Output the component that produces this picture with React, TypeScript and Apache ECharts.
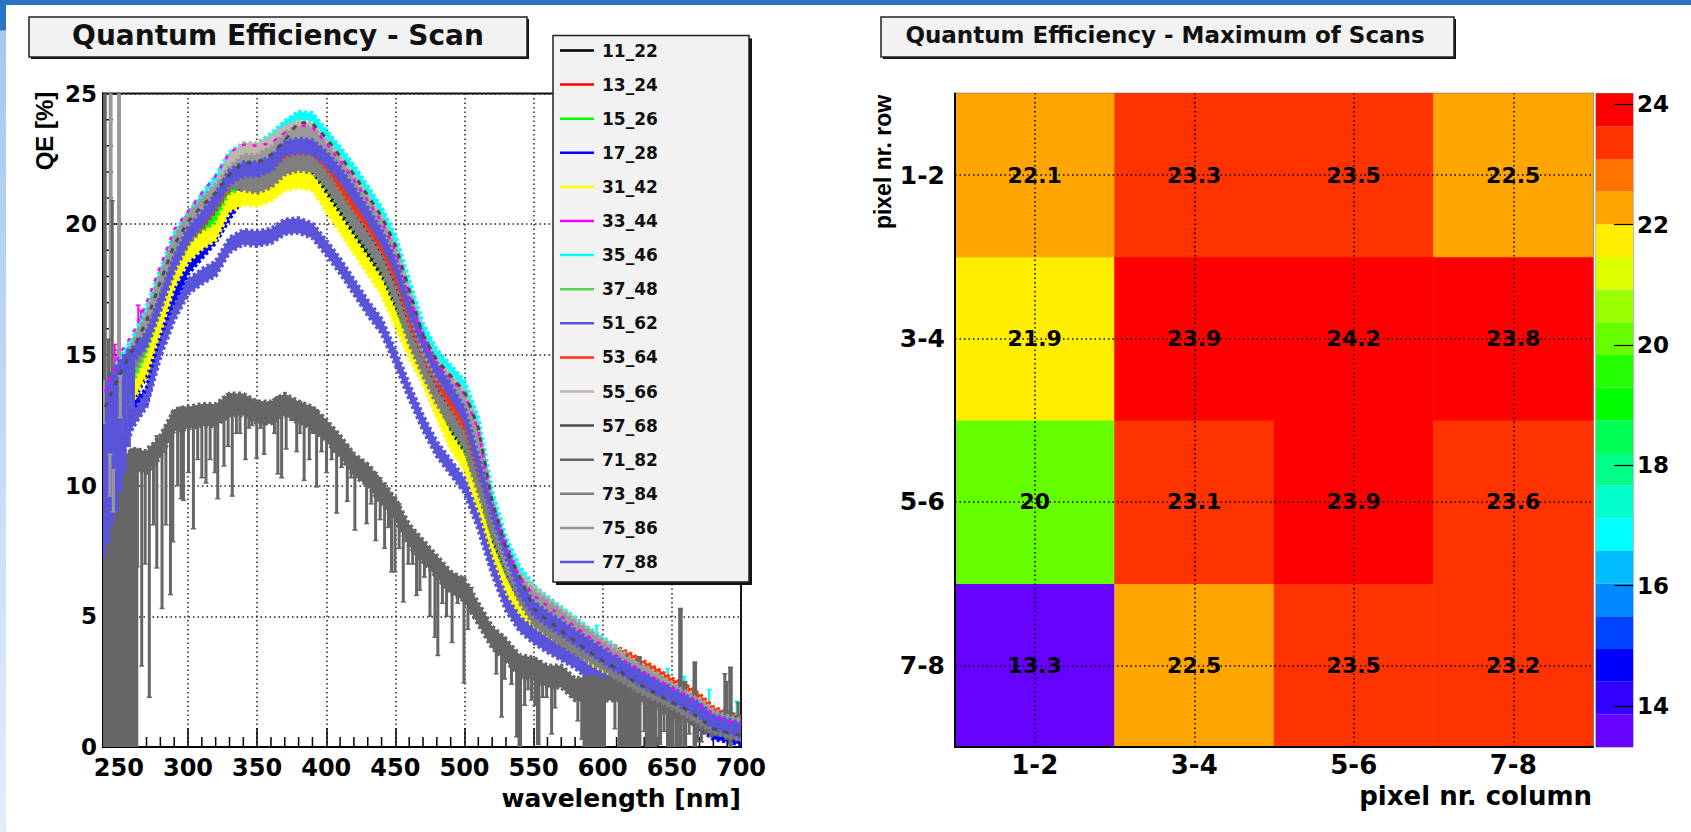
import React, { useEffect, useRef } from "react";
import * as echarts from "echarts";

const wavelengths = [240,250,260,270,280,290,300,310,320,330,340,350,360,370,380,390,400,410,420,430,440,450,460,470,480,490,500,510,520,530,540,550,560,570,580,590,600,610,620,630,640,650,660,670,680,690,700];

const qe11 = [11,12.4,13.4,14.4,16,17.6,18.7,19.4,20.1,20.9,21.3,21.3,21.5,22,22.2,22.1,21.4,20.6,19.8,19,18.2,17,15.6,14.3,13.2,12.15,11.45,9.6,7.8,6.4,5.4,4.9,4.5,4.1,3.75,3.4,3.05,2.8,2.5,2.25,2,1.75,1.45,1.15,0.8,0.65,0.5];
const qe13 = [12.5,13.5,14.3,15.2,16.7,18.2,19.2,19.8,20.5,21.3,21.8,21.8,22,22.4,22.5,22.65,22,21.25,20.55,19.85,19,17.85,16.2,14.95,13.9,13,12.1,10.5,8.6,7.1,5.9,5.2,4.75,4.35,4,3.65,3.3,3,2.7,2.4,2.15,1.9,1.55,1.25,0.9,0.75,0.6];
const qe15 = [12.3,13.2,13.8,15,16.5,18,19,19.5,20.2,21,21.5,21.4,21.6,22.1,22.25,22.2,21.6,20.8,20,19.25,18.4,17.2,15.6,14.4,13.3,12.45,11.6,9.9,8.3,6.9,5.7,4.9,4.5,4.15,3.8,3.5,3.2,2.85,2.55,2.25,2,1.75,1.45,1.15,0.8,0.65,0.5];
const qe17 = [10.5,11.5,12.9,13.4,15.6,17.2,18.4,19,19.6,20.5,21.3,21.3,21.5,22.1,22.5,22.6,21.8,21,20.2,19.4,18.6,17.4,16,15,13.9,12.9,12,10.4,8.5,7,5.7,5.1,4.6,4.2,3.9,3.5,3.1,2.8,2.5,2.2,2,1.75,1.4,1,0.6,0.5,0.4];
const qe31 = [11,12,13.5,14.6,16.2,17.9,18.85,19.35,19.7,20.8,21.05,21,21.2,21.6,21.7,21.6,20.8,20,19.2,18.4,17.6,16.4,15.2,14.2,12.9,11.7,10.9,9.4,7.5,6.2,5.2,4.75,4.3,3.95,3.6,3.3,3,2.75,2.5,2.25,2,1.8,1.55,1.25,0.9,0.75,0.6];
const qe33 = [13.6,15,15.8,17,18.4,19.8,20.5,21.2,21.85,22.75,23.05,23,23.1,23.5,23.8,23.7,23.1,22.4,21.7,20.9,20.1,19,17.3,15.6,14.6,14.1,13.5,12.1,9.3,7.6,6.5,5.8,5.4,5,4.6,4.2,3.9,3.5,3.15,2.85,2.55,2.25,2,1.65,1.2,1,0.9];
const qe35 = [13.3,14.7,15.5,16.7,18.1,19.5,20.3,21,21.7,22.6,22.95,22.95,23.3,23.8,24.15,24.1,23.45,22.8,22.1,21.3,20.5,19.4,17.7,16.05,15.05,14.45,13.85,12.45,9.65,7.85,6.75,6.05,5.6,5.2,4.8,4.4,4.05,3.7,3.3,3,2.7,2.35,2.1,1.75,1.3,1.1,0.95];
const qe37 = [12.6,13.4,14.2,15.4,16.9,18.4,19.4,20.1,20.8,21.7,22,22,22.2,22.8,22.9,22.85,22.4,21.8,21.05,20.25,19.4,18.3,16.7,15.4,14.3,13.5,12.6,10.8,8.9,7.4,6,5.2,4.8,4.45,4.1,3.75,3.4,3.05,2.75,2.45,2.15,1.9,1.6,1.3,0.85,0.7,0.55];
const qe51 = [9,11,12.5,13.3,15.2,16.6,17.6,18,18.3,19.2,19.5,19.45,19.55,19.9,19.95,19.75,19.1,18.4,17.6,16.8,16.1,14.9,13.6,12.4,11.4,10.7,10,8.6,6.9,5.5,4.7,4.25,3.9,3.6,3.3,2.85,2.55,2.35,2.15,2,1.8,1.6,1.4,1.1,0.8,0.7,0.55];
const qe53 = [12.9,14,14.8,15.7,17.2,18.6,19.5,20.1,20.8,21.6,22,22,22.2,22.6,22.7,22.75,22.1,21.35,20.65,19.95,19.1,17.95,16.3,15.05,14,13.1,12.2,10.6,8.7,7.2,6,5.35,4.9,4.5,4.15,3.8,3.75,3.6,3.35,3.05,2.75,2.4,2.15,1.8,1.3,1.1,0.95];
const qe55 = [12.9,14.1,15,16.2,17.6,19,19.9,20.6,21.3,22.4,22.85,22.85,23.1,23.5,23.7,23.6,23,22.35,21.65,20.85,20.05,18.95,17.25,15.55,14.6,14,13.4,12,9.2,7.4,6.4,5.9,5.45,5.05,4.65,4.25,3.9,3.55,3.15,2.85,2.55,2.2,1.95,1.6,1.15,1,0.85];
const qe57 = [13,14.2,15.2,16.3,17.8,19.2,20.1,20.7,21.2,21.9,22.35,22.35,22.65,23.2,23.9,23.85,23.3,22.6,21.9,21.1,20.3,19.2,17.5,15.75,14.8,14.2,13.6,12.2,9.4,7.6,6.5,5.3,4.85,4.45,4.05,3.65,3.3,3,2.6,2.3,2,1.7,1.45,1.1,0.7,0.55,0.45];
const qe71 = [10,10.5,11,10.9,11.5,12.5,12.6,12.7,12.7,13.1,13.1,12.8,12.8,13.1,12.8,12.6,12.1,11.5,10.8,10.4,9.7,9.1,8.1,7.5,6.9,6.3,6,5.1,4.2,3.7,3.1,3,2.7,2.7,2.2,2.3,2.2,2.2,2.3,2.1,1.9,1.5,1.5,1.1,0.9,0.9,0.7];
const qe73 = [13,13.8,14.6,15.6,17,18.5,19.5,20.2,20.9,21.7,21.6,21.5,21.7,22.2,22.35,22.3,21.7,20.9,20.1,19.35,18.5,17.3,15.7,14.5,13.4,12.55,11.7,10,8.4,7,5.8,4.95,4.55,4.2,3.85,3.55,3.25,2.9,2.6,2.3,2.05,1.8,1.5,1.2,0.85,0.7,0.55];
const qe75 = [13,14.2,15.2,16.3,17.8,19.2,20.1,20.7,21.2,21.9,22.35,22.35,22.65,23.2,23.45,23.4,22.8,22.15,21.45,20.65,19.85,18.75,17.05,15.35,14.4,13.8,13.2,11.8,9,7.25,6.2,5.7,5.3,4.9,4.5,4.15,3.75,3.4,3.05,2.75,2.45,2.1,1.8,1.5,1.05,0.9,0.75];
const qe77 = [13.4,14.3,15,15.6,17,18.5,19.6,20.2,20.9,21.8,22.1,22.1,22.3,22.9,23,22.95,22.5,21.9,21.15,20.35,19.5,18.4,16.8,15.5,14.4,13.6,12.7,10.9,9,7.5,6.1,5.3,4.9,4.55,4.2,3.85,3.5,3.15,2.85,2.55,2.25,2,1.7,1.4,0.95,0.8,0.65];

const bars71 = [[239.6,0,25],[242.2,0,10],[245.1,0,10],[248,0,10.5],[250.9,0,10.5],[253.8,0,11],[256.6,0,11],[259.5,0,11.4],[262.4,0,11.3],[247,6.2,10.5],[252.4,7.2,11],[258,2.9,11.3],[242.5,13.5,15.6],[245.2,14,20.9],[263.4,6.9,11.4],[266.5,3.1,11.1],[269,7,10.9],[272,1.9,11.5],[275,8.5,11.6],[277.4,6.85,11.9],[281.2,5.3,11.95],[284,8.5,12.2],[287.3,5.83,12.3],[289,7.85,12.8],[292.5,10,12.9],[295,9.5,13],[296.7,9.44,13],[300.3,10.5,12.9],[303.9,8.35,12.9],[307,11,13],[310,10.3,13],[313,10.1,13.1],[316,11,13],[319.5,10.5,12.9],[321.5,9.5,13.1],[326,10.75,13.4],[329,11.5,13.5],[332,9.6,13.5],[335,12,13.4],[337.6,12,13.4],[341.5,11,13.4],[344,12.2,13.3],[346.3,12.3,13.3],[349.7,11.05,13.2],[352.5,12.2,13.2],[355,11.2,13.1],[359.3,12.4,13.2],[362.5,12,13.3],[365,10.45,13.4],[367.7,10.3,13.4],[371,11.4,13.4],[375,12.5,13.2],[378.6,11.3,13.2],[381,12,13.2],[384,10.2,13],[387.7,11,13],[390,12,13],[393,9.95,12.9],[396.6,11.3,12.7],[400.2,10.5,12.4],[403.9,11,12.2],[407.5,8.95,11.9],[411,10.7,11.7],[415.2,9.4,11.5],[418,10.3,11.3],[420.7,8.3,11.1],[424.4,10.2,11],[429.2,8.55,10.8],[432.5,9.3,10.7],[435.7,7.9,10.5],[439,8.7,10.3],[442.2,7.6,10.1],[445,8.4,9.9],[447.2,6.7,9.7],[449.7,6.7,9.5],[452.7,7.6,9.3],[455.7,5.55,8.8],[459.3,7,8.3],[462.5,7,8.1],[465.3,5.8,8],[467.7,6,7.8],[471,6.5,7.3],[475,5,7.2],[478.6,4.2,7],[480.7,3.5,7],[484,5.5,6.9],[487,5,6.7],[491,4,6.6],[495,5.5,6.4],[499.6,2.45,6.5],[502.5,4.5,6.2],[505,5.2,6.1],[523,2.8,4.4],[526.8,1.15,4.3],[529,2.6,4.2],[534,2.4,3.7],[537.7,0.39,3.55],[540,0,3.3],[543.5,1.6,3.3],[546,2.2,3.3],[548.5,1.8,3.3],[551,1.6,3.3],[553.3,0.1,3.3],[556.5,1.9,3.1],[559.4,1.9,3],[563,0.5,3.05],[565.4,1.5,3],[569,2.4,2.95],[578.6,1.9,2.5],[582,1,2.55],[584.8,0.3,2.5],[587,0,2.55],[589.5,0,2.6],[591.9,0,2.6],[594.4,0,2.6],[596.7,0,2.6],[599,0,2.55],[600.8,0,2.5],[608.8,0.7,2.4],[612.4,0,3.2],[614.8,0,2.8],[617.2,0,3.5],[619.6,0,2.9],[622,0,3],[624.2,0,2.7],[626.4,0,3.45],[630,0.6,2.6],[632,0,2.5],[635,0,2.5],[637.8,0,2.3],[641.3,0.1,2.2],[644.3,0.6,2.1],[647.3,0,2],[650,0,1.9],[653.4,0,1.8],[656.2,0,5.3],[659.4,0,2.5],[662.5,0.5,2],[666.6,0,3.25],[668.8,0.2,1.6],[671.4,0.2,1.5],[674,0.5,1.3],[678,0.4,1.1],[682,0.6,1],[685.5,0.5,1.1],[688.3,0.4,2.8],[689.5,0.3,2.5],[692.4,0,3.05],[697.9,0.6,1.7]];
const bars75 = [[244,11,25],[250.1,11,25],[246.5,3.9,6]];
const bars75Front = [[238.8,12.4,14],[243.5,9.6,11.2],[246,9,10.6],[251,12.6,14.2]];
const bars77 = [[239,7.3,14],[242,7.8,14],[245,8.5,14.3],[248,9,14.6],[251,9.8,14.8],[254,10.5,15],[257,11.5,15.2],[260,12.4,15.2]];
const bars33 = [[247,14.2,15.4],[249,14.3,15.2],[264,15.8,16.9],[266,16,16.7],[268,16.1,16.6]];
const bars35 = [[595.6,3.9,4.65],[647,2,3],[659,2,2.7],[666,1.8,2.55],[677,1.5,2.2],[697,1,1.75]];

const majorX = [250,300,350,400,450,500,550,600,650,700];
const minorX = [260,270,280,290,310,320,330,340,360,370,380,390,410,420,430,440,460,470,480,490,510,520,530,540,560,570,580,590,610,620,630,640,660,670,680,690];
const minorY = [1,2,3,4,6,7,8,9,11,12,13,14,16,17,18,19,21,22,23,24];

const columnLabels = ["1-2","3-4","5-6","7-8"];
const rowLabels = ["7-8","5-6","3-4","1-2"];
const row12 = [22.1,23.3,23.5,22.5];
const row34 = [21.9,23.9,24.2,23.8];
const row56 = [20,23.1,23.9,23.6];
const row78 = [13.3,22.5,23.5,23.2];

const paletteColors = ["#6600ff","#3300ff","#0000ff","#0044ff","#0088ff","#00bbff","#00ffff","#00ffcc","#00ff88","#00ff55","#00ff00","#22ff00","#66ff00","#99ff00","#ddff00","#ffee00","#ffa500","#ff7300","#ff3300","#ff0000"];
const paletteEdges = [13.317,13.86,14.403,14.946,15.489,16.032,16.575,17.118,17.661,18.204,18.747,19.29,19.833,20.376,20.919,21.462,22.005,22.548,23.091,23.634,24.178];
const paletteTicks = [14,16,18,20,22,24];

const legendNames = ["11_22","13_24","15_26","17_28","31_42","33_44","35_46","37_48","51_62","53_64","55_66","57_68","71_82","73_84","75_86","77_88"];

const FONT = "DejaVu Sans";
const SANS = "Liberation Sans";

function band(name: string, color: string, vals: number[], hw: number) {
  return {
    type: "custom", name, xAxisIndex: 0, yAxisIndex: 0, clip: true, silent: true,
    itemStyle: { color },
    data: wavelengths.map((w, i) => [w, vals[i]]),
    encode: { x: 0, y: 1 },
    renderItem: (p: any, api: any) => {
      if (p.dataIndex !== 0) return null;
      const up = wavelengths.map((w, i) => api.coord([w, vals[i] + hw]));
      const lo = wavelengths.map((w, i) => api.coord([w, vals[i] - hw])).reverse();
      return { type: "polygon", shape: { points: [...up, ...lo] }, style: { fill: color, stroke: color, lineWidth: 4, lineDash: [3, 2.5], lineJoin: "bevel" } };
    },
  };
}

function bars(name: string, color: string, rows: number[][], solidWidth: number, spikeWidth: number) {
  return {
    type: "custom", name, xAxisIndex: 0, yAxisIndex: 0, clip: true, silent: true,
    itemStyle: { color },
    data: rows,
    encode: { x: 0, y: [1, 2] },
    renderItem: (_p: any, api: any) => {
      const a = api.coord([api.value(0), api.value(1)]);
      const b = api.coord([api.value(0), api.value(2)]);
      const s = { stroke: color, lineWidth: api.value(1) <= 0.1 ? solidWidth : spikeWidth };
      return {
        type: "group",
        children: [
          { type: "line", shape: { x1: a[0], y1: a[1], x2: b[0], y2: b[1] }, style: s },
          { type: "line", shape: { x1: a[0] - 2.5, y1: a[1], x2: a[0] + 2.5, y2: a[1] }, style: { stroke: color, lineWidth: 1.5 } },
          { type: "line", shape: { x1: b[0] - 2.5, y1: b[1], x2: b[0] + 2.5, y2: b[1] }, style: { stroke: color, lineWidth: 1.5 } },
        ],
      };
    },
  };
}

function minorTicks(rows: number[], horizontal: boolean) {
  return {
    type: "custom", xAxisIndex: 0, yAxisIndex: 0, clip: true, silent: true,
    data: rows.map((v) => (horizontal ? [v, 0] : [238.5, v])),
    encode: { x: 0, y: 1 },
    renderItem: (_p: any, api: any) => {
      const a = api.coord([api.value(0), api.value(1)]);
      return {
        type: "line",
        shape: horizontal ? { x1: a[0], y1: a[1], x2: a[0], y2: a[1] - 10 } : { x1: a[0], y1: a[1], x2: a[0] + 10, y2: a[1] },
        style: { stroke: "#000", lineWidth: 1.5 },
      };
    },
  };
}

function box(x: number, y: number, w: number, h: number, shadow: number) {
  return [
    { type: "rect", z: 5, silent: true, shape: { x: x + shadow, y: y + shadow, width: w, height: h }, style: { fill: "#111" } },
    { type: "rect", z: 6, silent: true, shape: { x, y, width: w, height: h }, style: { fill: "#f2f2f2", stroke: "#222", lineWidth: 1.5 } },
  ];
}

function buildOption() {
  const heatData: any[] = [];
  [row78, row56, row34, row12].forEach((row, r) => row.forEach((v, c) => heatData.push([c, r, v])));

  const pieces = paletteColors.map((color, i) => ({
    min: i === 0 ? -1000 : paletteEdges[i],
    max: i === paletteColors.length - 1 ? 1000 : paletteEdges[i + 1],
    color,
  }));

  const lineStyleDotted = { type: [1.5, 3], color: "#222", width: 1.5 };

  const qeSeries: any[] = [
    minorTicks(minorX, true),
    minorTicks(minorY, false),
    band("11_22", "#000000", qe11, 0.2),
    band("13_24", "#ff0000", qe13, 0.2),
    band("15_26", "#00ff00", qe15, 0.2),
    band("17_28", "#0000ff", qe17, 0.3),
    band("31_42", "#ffff00", qe31, 0.3),
    {
      type: "line", name: "33_44", xAxisIndex: 0, yAxisIndex: 0, silent: true, showSymbol: false,
      itemStyle: { color: "#ff00ff" },
      lineStyle: { color: "#ff00ff", width: 2.5, type: [4, 7] },
      data: wavelengths.map((w, i) => [w, qe33[i]]),
    },
    bars("33_44", "#ff00ff", bars33, 2, 2),
    band("35_46", "#00ffff", qe35, 0.15),
    bars("35_46", "#00ffff", bars35, 2.5, 2.5),
    band("37_48", "#59d454", qe37, 0.2),
    band("51_62", "#5954d9", qe51, 0.28),
    band("53_64", "#ff3300", qe53, 0.22),
    band("55_66", "#c0b6ac", qe55, 0.25),
    {
      type: "line", name: "57_68", xAxisIndex: 0, yAxisIndex: 0, silent: true, showSymbol: false,
      itemStyle: { color: "#4c4c4c" },
      lineStyle: { color: "#4c4c4c", width: 3, type: [5, 7] },
      data: wavelengths.map((w, i) => [w, qe57[i]]),
    },
    bars("75_86", "#999999", bars75, 4, 4),
    bars("71_82", "#666666", bars71, 4.5, 3),
    band("71_82", "#666666", qe71, 0.42),
    band("73_84", "#7f7f7f", qe73, 0.3),
    band("75_86", "#999999", qe75, 0.3),
    bars("77_88", "#5954d9", bars77, 4.5, 4.5),
    band("77_88", "#5954d9", qe77, 0.27),
    bars("75_86", "#999999", bars75Front, 3, 3),
  ];

  const series: any[] = [
    ...qeSeries,
    {
      type: "heatmap", xAxisIndex: 1, yAxisIndex: 1, silent: true,
      data: heatData,
      itemStyle: { borderWidth: 0 },
      label: { show: true, formatter: (p: any) => String(p.value[2]), color: "#000", fontFamily: FONT, fontWeight: "bold", fontSize: 22 },
      markLine: {
        silent: true, symbol: ["none", "none"], label: { show: false },
        lineStyle: { type: [1.5, 3], color: "#000", width: 1.5 },
        data: [...columnLabels.map((c) => ({ xAxis: c })), ...rowLabels.map((r) => ({ yAxis: r }))],
      },
    },
    {
      type: "custom", xAxisIndex: 2, yAxisIndex: 2, silent: true,
      data: paletteColors.map((_c, i) => [0, paletteEdges[i], paletteEdges[i + 1]]),
      encode: { y: [1, 2] },
      renderItem: (p: any, api: any) => {
        const a = api.coord([0, api.value(1)]);
        const b = api.coord([1, api.value(2)]);
        return { type: "rect", shape: { x: a[0], y: b[1], width: b[0] - a[0], height: a[1] - b[1] }, style: { fill: paletteColors[p.dataIndex] } };
      },
    },
  ];

  return {
    animation: false,
    backgroundColor: "#ffffff",
    title: [
      { text: "Quantum Efficiency - Scan", left: 273, top: 16, textAlign: "center", z: 10, textStyle: { fontFamily: FONT, fontWeight: "bold", fontSize: 28, color: "#111" } },
      { text: "Quantum Efficiency - Maximum of Scans", left: 1160, top: 18, textAlign: "center", z: 10, textStyle: { fontFamily: FONT, fontWeight: "bold", fontSize: 23, color: "#111" } },
    ],
    legend: {
      data: legendNames, orient: "vertical", left: 555, top: 37, z: 10, selectedMode: false,
      icon: "rect", itemWidth: 34, itemHeight: 2.5, itemGap: 17.1, align: "left",
      textStyle: { fontFamily: FONT, fontWeight: "bold", fontSize: 17, lineHeight: 17, color: "#111", padding: [0, 0, 0, 3] },
    },
    grid: [
      { left: 103, top: 93.5, width: 638, height: 653.5, show: true, borderColor: "#111", borderWidth: 2, backgroundColor: "#fff" },
      { left: 955, top: 93.5, width: 638, height: 653.5, show: true, borderColor: "#666", borderWidth: 1.5 },
      { left: 1596, top: 93.5, width: 37, height: 653.5, show: true, borderColor: "#777", borderWidth: 1 },
    ],
    xAxis: [
      {
        type: "value", gridIndex: 0, min: 238.5, max: 700,
        axisLine: { onZero: false, lineStyle: { color: "#000", width: 2 } },
        axisTick: { inside: true, length: 19, customValues: majorX, lineStyle: { color: "#000", width: 1.5 } },
        axisLabel: { customValues: majorX, margin: 9, color: "#000", fontFamily: FONT, fontWeight: "bold", fontSize: 24 },
        splitLine: { show: true, lineStyle: lineStyleDotted },
      },
      {
        type: "category", gridIndex: 1, data: columnLabels, z: 3,
        axisLine: { lineStyle: { color: "#000", width: 2 } },
        axisTick: { inside: true, length: 19, alignWithLabel: true, lineStyle: { color: "#000", width: 1.5 } },
        axisLabel: { margin: 5, color: "#000", fontFamily: FONT, fontWeight: "bold", fontSize: 26 },
        splitLine: { show: false },
      },
      { type: "value", gridIndex: 2, min: 0, max: 1, show: false },
    ],
    yAxis: [
      {
        type: "value", gridIndex: 0, min: 0, max: 25, interval: 5,
        axisLine: { onZero: false, lineStyle: { color: "#000", width: 2 } },
        axisTick: { inside: true, length: 19, lineStyle: { color: "#000", width: 1.5 } },
        axisLabel: { margin: 6, color: "#000", fontFamily: FONT, fontWeight: "bold", fontSize: 23 },
        splitLine: { show: true, lineStyle: lineStyleDotted },
      },
      {
        type: "category", gridIndex: 1, data: rowLabels, z: 3,
        axisLine: { lineStyle: { color: "#000", width: 2 } },
        axisTick: { inside: true, length: 19, alignWithLabel: true, lineStyle: { color: "#000", width: 1.5 } },
        axisLabel: { margin: 10, color: "#000", fontFamily: FONT, fontWeight: "bold", fontSize: 25 },
        splitLine: { show: false },
      },
      {
        type: "value", gridIndex: 2, position: "right", min: 13.317, max: 24.178, z: 3,
        axisLine: { show: false, onZero: false },
        axisTick: { inside: true, length: 19, customValues: paletteTicks, lineStyle: { color: "#000", width: 1.2 } },
        axisLabel: { customValues: paletteTicks, margin: 4, color: "#000", fontFamily: FONT, fontWeight: "bold", fontSize: 23 },
        splitLine: { show: false },
      },
    ],
    visualMap: { show: false, type: "piecewise", seriesIndex: qeSeries.length, dimension: 2, pieces },
    graphic: {
      elements: [
        { type: "rect", z: 1, silent: true, shape: { x: 0, y: 0, width: 1691, height: 5 }, style: { fill: "#2b72c0" } },
        {
          type: "rect", z: 1, silent: true, shape: { x: 0, y: 0, width: 6, height: 832 },
          style: { fill: new echarts.graphic.LinearGradient(0, 0, 0, 1, [
            { offset: 0, color: "#2b72c0" }, { offset: 0.036, color: "#2b72c0" }, { offset: 0.037, color: "#a6c8ee" }, { offset: 1, color: "#e4ecf9" },
          ]) },
        },
        ...box(29, 17, 498, 40, 2),
        ...box(881, 17, 573, 40, 2),
        ...box(553, 35.5, 196, 546.5, 3),
        { type: "text", z: 9, silent: true, x: 44, y: 131, rotation: Math.PI / 2, style: { text: "QE [%]", x: 0, y: 0, align: "center", verticalAlign: "middle", fill: "#000", font: `bold 24px '${SANS}'` } },
        { type: "text", z: 9, silent: true, x: 741, y: 798, style: { text: "wavelength [nm]", x: 0, y: 0, align: "right", verticalAlign: "middle", fill: "#000", font: `bold 25px '${FONT}'` } },
        { type: "text", z: 9, silent: true, x: 883, y: 162, rotation: Math.PI / 2, style: { text: "pixel nr. row", x: 0, y: 0, align: "center", verticalAlign: "middle", fill: "#000", font: `bold 23px '${SANS}'` } },
        { type: "text", z: 9, silent: true, x: 1592, y: 796, style: { text: "pixel nr. column", x: 0, y: 0, align: "right", verticalAlign: "middle", fill: "#000", font: `bold 26px '${FONT}'` } },
      ],
    },
    series,
  };
}

export default function App() {
  const ref = useRef<HTMLDivElement>(null);
  useEffect(() => {
    const chart = echarts.init(ref.current!, null, { renderer: "svg" });
    chart.setOption(buildOption() as any);
    return () => chart.dispose();
  }, []);
  return <div ref={ref} style={{ position: "fixed", left: 0, top: 0, width: 1691, height: 832 }} />;
}
